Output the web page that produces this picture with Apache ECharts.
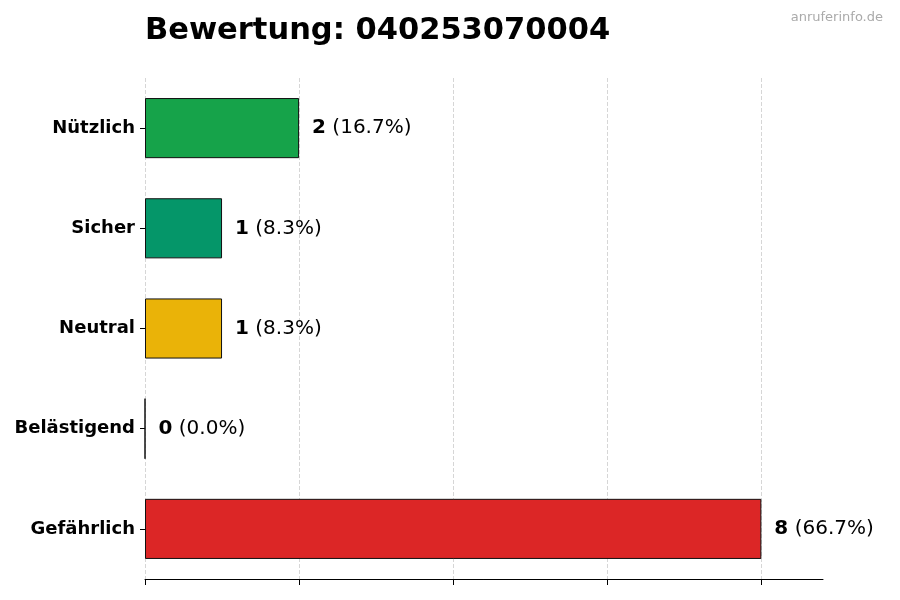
<!DOCTYPE html>
<html>
<head>
<meta charset="utf-8">
<script src="https://cdn.jsdelivr.net/npm/echarts@6/dist/echarts.min.js"></script>
<style>html,body{margin:0;padding:0;background:#fff}#c{width:900px;height:600px}</style>
</head>
<body>
<div id="c"></div>
<script>
const categories = ['Nützlich', 'Sicher', 'Neutral', 'Belästigend', 'Gefährlich'];
const values = [2, 1, 1, 0, 8];
const colors = ['#16a34a', '#059669', '#eab308', '#ea580c', '#dc2626'];
const xTicks = [0, 2, 4, 6, 8];
const titleText = 'Bewertung: 040253070004';
const watermark = 'anruferinfo.de';

const total = values.reduce((a, b) => a + b, 0);
const font = 'DejaVu Sans';
const chart = echarts.init(document.getElementById('c'), null, {renderer: 'canvas'});
chart.setOption({
  animation: false,
  textStyle: {fontFamily: font},
  title: [
    {text: titleText, left: 145, top: 16, padding: 0, textStyle: {fontFamily: font, fontSize: 30.5, fontWeight: 'bold', color: '#000'}},
    {text: watermark, right: 17, top: 11, padding: 0, textStyle: {fontFamily: font, fontSize: 13, fontWeight: 'normal', color: '#aaa'}}
  ],
  grid: {left: 145, right: 77, top: 78, bottom: 21, containLabel: false},
  xAxis: {
    type: 'value', min: 0, max: 8.8, interval: 2,
    axisLabel: {show: false},
    axisLine: {show: true, lineStyle: {color: '#000', width: 1}},
    axisTick: {show: true, length: 6, customValues: xTicks, lineStyle: {color: '#000'}},
    splitLine: {show: true, lineStyle: {color: '#d6d6d6', type: 'dashed', width: 1}}
  },
  yAxis: {
    type: 'category', data: categories, inverse: true,
    axisLine: {show: false},
    axisTick: {show: true, length: 5, alignWithLabel: true, lineStyle: {color: '#000'}},
    axisLabel: {fontFamily: font, fontSize: 18, fontWeight: 'bold', color: '#000', margin: 10, padding: [3, 0, 0, 0]}
  },
  series: [{
    type: 'bar', barWidth: '60%',
    data: values.map((v, i) => ({value: v, itemStyle: {color: colors[i]}})),
    itemStyle: {borderColor: '#111', borderWidth: 1},
    label: {
      show: true, position: 'right', distance: 13,
      formatter: p => '{b|' + p.value + '}{n| (' + (p.value / total * 100).toFixed(1) + '%)}',
      rich: {
        b: {fontFamily: font, fontSize: 20, fontWeight: 'bold', color: '#000'},
        n: {fontFamily: font, fontSize: 20, color: '#000'}
      }
    }
  }]
});
</script>
</body>
</html>
